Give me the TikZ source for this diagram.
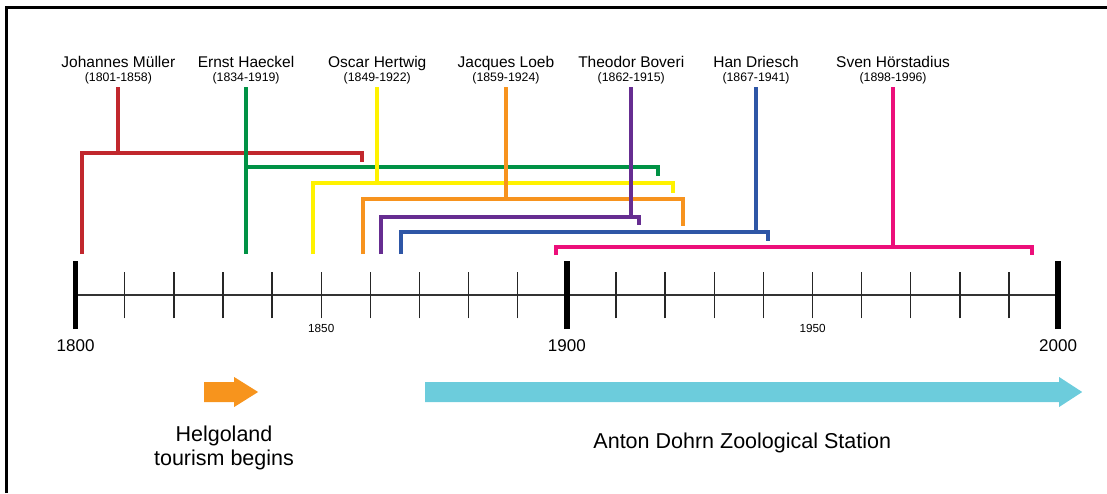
\documentclass[tikz,border=0pt]{standalone}
\usepackage{fontspec}
\setmainfont{Liberation Sans}
\usepackage{xcolor}
\usepackage{tikz}

\definecolor{muellerred}{RGB}{193,39,45}
\definecolor{haeckelgreen}{RGB}{0,146,69}
\definecolor{hertwigyellow}{RGB}{255,242,0}
\definecolor{loeborange}{RGB}{247,147,30}
\definecolor{boveripurple}{RGB}{102,45,145}
\definecolor{drieschblue}{RGB}{46,86,166}
\definecolor{hoerstadiuspink}{RGB}{236,15,122}
\definecolor{tourismorange}{RGB}{247,148,29}
\definecolor{stationcyan}{RGB}{108,204,220}

\tikzset{
    person/.style={anchor=base, inner sep=0pt, font=\fontsize{15.5}{18}\selectfont},
    lifespan/.style={anchor=base, inner sep=3pt, outer sep=0pt, font=\fontsize{12.3}{14}\selectfont},
    life/.style={line width=3.8pt},
    axisline/.style={line width=1.5pt, black!80},
    minortick/.style={line width=1.3pt, black!85},
    majortick/.style={line width=5.6pt, black},
    biglabel/.style={anchor=base, inner sep=0pt, font=\fontsize{17}{20}\selectfont},
    smalllabel/.style={anchor=base, inner sep=0pt, font=\fontsize{11.7}{14}\selectfont},
    caption/.style={anchor=base, inner sep=0pt, font=\fontsize{21.5}{25}\selectfont}
}

\begin{document}
\begin{tikzpicture}[x=4.9125pt, y=1pt]
        % one x unit is one year, y in pt above the axis
        \useasboundingbox (1784.63,-198) rectangle (2009.97,295);
        \draw[line width=2.7pt] (1785.9,-198) -- (1785.9,287.7) -- (2009.97,287.7);

        % Time axis
        \draw[axisline] (1800,0) -- (2000,0);
        \foreach \yr in {1810,1820,...,1890,1910,1920,...,1990} {
                \draw[minortick] (\yr,-23.3) -- (\yr,23.3);
            }
        \foreach \yr in {1800,1900,2000} {
                \draw[majortick] (\yr,-34) -- (\yr,34);
                \node[biglabel] (y\yr) at (\yr,-56.7) {\yr};
            }
        \node[smalllabel] (y1850) at (1850,-37) {1850};
        \node[smalllabel] (y1950) at (1950,-37) {1950};

        % Mueller
        \node[person] (mueller) at (1808.7,228) {Johannes Müller};
        \node[lifespan] (muellerd) at (1808.7,213.5) {(1801-1858)};
        \draw[life, muellerred] (muellerd.south) -- (muellerd.south |- 0,142.3);
        \draw[life, muellerred] (1801.3,41) |- (1858.3,142.3) -- (1858.3,133);

        % Haeckel
        \node[person] (haeckel) at (1834.7,228) {Ernst Haeckel};
        \node[lifespan] (haeckeld) at (1834.7,213.5) {(1834-1919)};
        \draw[life, haeckelgreen] (haeckeld.south) -- (haeckeld.south |- 0,41);
        \draw[life, haeckelgreen] (1834.7,128.3) -- (1918.6,128.3) -- (1918.6,119);

        % Hertwig
        \node[person] (hertwig) at (1861.4,228) {Oscar Hertwig};
        \node[lifespan] (hertwigd) at (1861.4,213.5) {(1849-1922)};
        \draw[life, hertwigyellow] (hertwigd.south) -- (hertwigd.south |- 0,111.7);
        \draw[life, hertwigyellow] (1848.3,41) |- (1921.6,111.7) -- (1921.6,102.3);

        % Loeb
        \node[person] (loeb) at (1887.6,228) {Jacques Loeb};
        \node[lifespan] (loebd) at (1887.6,213.5) {(1859-1924)};
        \draw[life, loeborange] (loebd.south) -- (loebd.south |- 0,95.7);
        \draw[life, loeborange] (1858.5,41) |- (1923.7,95.7) -- (1923.7,69);

        % Boveri
        \node[person] (boveri) at (1913.1,228) {Theodor Boveri};
        \node[lifespan] (boverid) at (1913.1,213.5) {(1862-1915)};
        \draw[life, boveripurple] (boverid.south) -- (boverid.south |- 0,78.3);
        \draw[life, boveripurple] (1862.2,41) |- (1914.7,78.3) -- (1914.7,69.7);

        % Driesch
        \node[person] (driesch) at (1938.5,228) {Han Driesch};
        \node[lifespan] (drieschd) at (1938.5,213.5) {(1867-1941)};
        \draw[life, drieschblue] (drieschd.south) -- (drieschd.south |- 0,62.7);
        \draw[life, drieschblue] (1866.3,41) |- (1940.9,62.7) -- (1940.9,54.3);

        % Hoerstadius
        \node[person] (hoerstadius) at (1966.4,228) {Sven Hörstadius};
        \node[lifespan] (hoerstadiusd) at (1966.4,213.5) {(1898-1996)};
        \draw[life, hoerstadiuspink] (hoerstadiusd.south) -- (hoerstadiusd.south |- 0,48.3);
        \draw[life, hoerstadiuspink] (1897.8,40) |- (1994.7,48.3) -- (1994.7,40);

        % Helgoland and Naples
        \fill[tourismorange] (1826.16,-87) -- (1832.27,-87) -- (1832.27,-82) -- (1837.15,-97)
            -- (1832.27,-112) -- (1832.27,-107) -- (1826.16,-107) -- cycle;
        \node[caption] (helgoland) at (1830.2,-146) {Helgoland};
        \node[caption] (tourism) at (1830.2,-170) {tourism begins};

        \fill[stationcyan] (1871.14,-87) -- (2000.2,-87) -- (2000.2,-82) -- (2004.9,-97)
            -- (2000.2,-112) -- (2000.2,-107) -- (1871.14,-107) -- cycle;
        \node[caption] (station) at (1935.7,-153) {Anton Dohrn Zoological Station};
    \end{tikzpicture}
\end{document}
